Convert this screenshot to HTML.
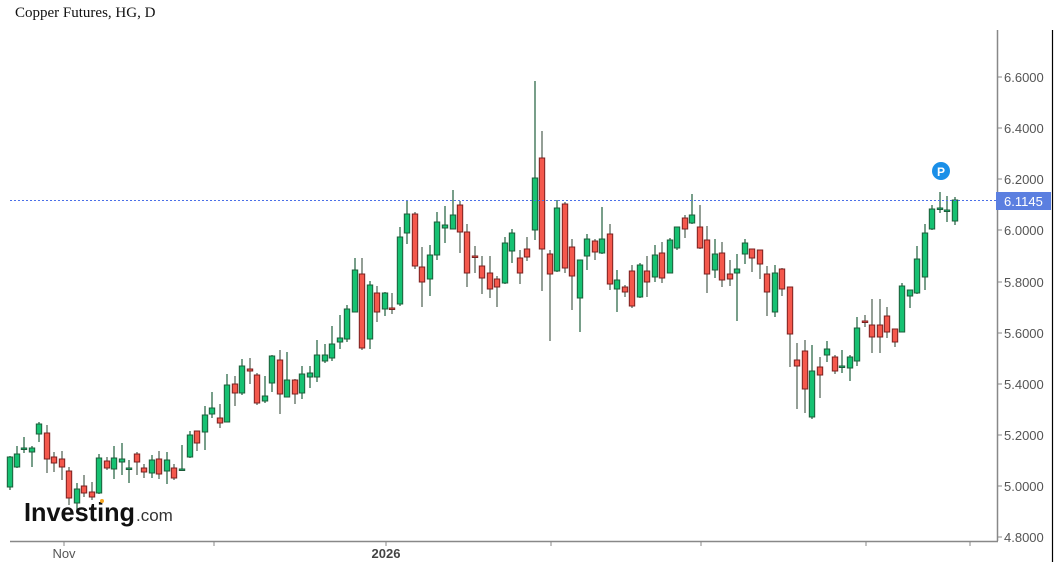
<!DOCTYPE html>
<html><head><meta charset="utf-8"><style>
html,body{margin:0;padding:0;background:#fff;width:1060px;height:569px;overflow:hidden}
svg{display:block;font-family:"Liberation Sans",Arial,sans-serif}
</style></head><body>
<svg id="c" width="1060" height="569" viewBox="0 0 1060 569" xmlns="http://www.w3.org/2000/svg">
<text x="15" y="17" font-family="Liberation Serif,serif" font-size="15" fill="#111">Copper Futures, HG, D</text>
<line x1="1052.5" y1="30" x2="1052.5" y2="562" stroke="#000" stroke-width="1.2"/>
<line x1="997.5" y1="30" x2="997.5" y2="541" stroke="#888" stroke-width="1.5"/>
<line x1="10" y1="541.5" x2="998" y2="541.5" stroke="#888" stroke-width="1.5"/>
<g fill="#555" font-size="13">
<text x="1004" y="82">6.6000</text><text x="1004" y="133">6.4000</text><text x="1004" y="184">6.2000</text>
<text x="1004" y="235">6.0000</text><text x="1004" y="287">5.8000</text><text x="1004" y="338">5.6000</text>
<text x="1004" y="389">5.4000</text><text x="1004" y="440">5.2000</text><text x="1004" y="491">5.0000</text>
<text x="1004" y="542">4.8000</text>
</g>
<g stroke="#888"><line x1="998" y1="77" x2="1002" y2="77"/><line x1="998" y1="128" x2="1002" y2="128"/><line x1="998" y1="179" x2="1002" y2="179"/><line x1="998" y1="230" x2="1002" y2="230"/><line x1="998" y1="282" x2="1002" y2="282"/><line x1="998" y1="333" x2="1002" y2="333"/><line x1="998" y1="384" x2="1002" y2="384"/><line x1="998" y1="435" x2="1002" y2="435"/><line x1="998" y1="486" x2="1002" y2="486"/><line x1="998" y1="537" x2="1002" y2="537"/>
<line x1="64" y1="542" x2="64" y2="546"/><line x1="214" y1="542" x2="214" y2="546"/><line x1="386" y1="542" x2="386" y2="546"/><line x1="551" y1="542" x2="551" y2="546"/><line x1="701" y1="542" x2="701" y2="546"/><line x1="866" y1="542" x2="866" y2="546"/><line x1="970" y1="542" x2="970" y2="546"/></g>
<text x="64" y="558" font-size="13" fill="#555" text-anchor="middle">Nov</text>
<text x="386" y="558" font-size="13" fill="#444" font-weight="bold" text-anchor="middle">2026</text>
<g id="k"></g>
<line x1="10" y1="200.5" x2="997" y2="200.5" stroke="#4a6fe8" stroke-width="1" stroke-dasharray="2,2"/>
<rect x="996" y="192" width="55" height="18" fill="#5b7fe0"/>
<text x="1004" y="206" font-size="13" fill="#fff">6.1145</text>
<circle cx="941" cy="171" r="9" fill="#1a8fe8"/>
<text x="941" y="176" font-size="12" font-weight="bold" fill="#fff" text-anchor="middle">P</text>
<text x="24" y="521" font-size="26" font-weight="bold" fill="#111" textLength="111" lengthAdjust="spacingAndGlyphs">Investing</text>
<text x="136" y="521" font-size="17" fill="#333">.com</text>
<circle cx="102" cy="501" r="2" fill="#f5a623"/>
</svg>
<script>
var d=[[10,487,457,456,490,'g'],[17,467,454,446,468,'g'],[24,448,448,437,453,'g'],[32,452,448,446,467,'g'],[39,434,424,422,442,'g'],[47,433,459,425,473,'r'],[54,457,463,452,472,'r'],[62,459,467,451,480,'r'],[69,471,498,467,505,'r'],[77,503,489,483,510,'g'],[84,486,493,475,497,'r'],[92,492,497,482,500,'r'],[99,493,458,454,494,'g'],[107,461,468,457,470,'r'],[114,469,458,446,479,'g'],[122,462,459,443,475,'g'],[129,468,468,460,483,'g'],[137,454,462,452,475,'r'],[144,468,472,464,478,'r'],[152,473,460,455,478,'g'],[159,459,474,451,479,'r'],[167,471,460,452,484,'g'],[174,468,478,464,480,'r'],[182,469,469,445,470,'g'],[190,457,435,431,458,'g'],[197,431,443,431,451,'r'],[205,432,415,406,450,'g'],[212,414,408,392,418,'g'],[220,418,423,404,428,'r'],[227,422,385,374,422,'g'],[235,384,393,376,406,'r'],[242,393,366,359,395,'g'],[250,369,371,358,384,'r'],[257,375,403,373,405,'r'],[265,401,396,376,403,'g'],[272,383,356,355,392,'g'],[280,360,394,350,414,'r'],[287,397,380,352,397,'g'],[295,380,394,379,404,'r'],[302,393,374,366,399,'g'],[310,377,373,366,388,'g'],[317,377,355,340,382,'g'],[325,361,355,344,363,'g'],[332,358,344,326,361,'g'],[340,342,338,315,349,'g'],[347,339,309,305,342,'g'],[355,312,270,258,312,'g'],[362,274,348,258,350,'r'],[370,339,285,281,349,'g'],[377,293,312,286,322,'r'],[385,309,293,292,316,'g'],[392,308,309,293,314,'r'],[400,304,237,227,306,'g'],[407,233,214,201,244,'g'],[415,214,266,212,269,'r'],[422,267,282,247,307,'r'],[430,279,255,245,296,'g'],[437,255,222,212,260,'g'],[445,228,225,206,243,'g'],[453,229,215,190,229,'g'],[460,205,232,201,253,'r'],[467,232,273,224,287,'r'],[475,256,257,246,273,'r'],[482,266,278,256,294,'r'],[490,273,289,256,298,'r'],[497,279,287,276,307,'r'],[505,283,243,237,284,'g'],[512,251,233,229,263,'g'],[520,258,273,250,284,'r'],[527,249,257,237,261,'r'],[535,230,178,81,240,'g'],[542,158,249,131,291,'r'],[550,254,274,250,341,'r'],[557,271,208,200,272,'g'],[565,204,268,202,273,'r'],[572,247,276,239,310,'r'],[580,298,260,260,332,'g'],[587,256,239,234,270,'g'],[595,241,252,239,260,'r'],[602,253,239,207,254,'g'],[610,234,284,224,290,'r'],[617,289,280,270,312,'g'],[625,287,292,285,297,'r'],[632,271,306,265,308,'r'],[640,297,265,263,298,'g'],[647,271,282,256,297,'r'],[655,277,255,245,282,'g'],[662,253,278,242,283,'r'],[670,273,240,238,273,'g'],[677,248,227,227,250,'g'],[685,218,229,215,238,'r'],[692,223,215,194,224,'g'],[700,227,248,205,249,'r'],[707,240,274,226,293,'r'],[715,270,254,239,278,'g'],[722,253,280,242,287,'r'],[730,274,279,260,286,'r'],[737,273,269,254,321,'g'],[745,254,243,239,264,'g'],[752,249,258,249,272,'r'],[760,250,264,250,279,'r'],[767,274,292,266,316,'r'],[775,312,273,265,317,'g'],[782,269,289,268,296,'r'],[790,287,334,287,367,'r'],[797,360,366,343,409,'r'],[805,351,389,340,413,'r'],[812,417,371,345,419,'g'],[820,367,375,357,398,'r'],[827,355,349,341,362,'g'],[835,357,371,355,374,'r'],[842,367,366,350,373,'g'],[850,368,357,355,381,'g'],[857,361,328,317,366,'g'],[865,321,322,315,327,'r'],[872,325,337,299,353,'r'],[880,325,337,299,353,'r'],[887,316,332,307,338,'r'],[895,329,342,329,347,'r'],[902,332,286,283,332,'g'],[910,296,290,290,308,'g'],[917,293,259,246,294,'g'],[925,277,233,224,290,'g'],[932,229,209,205,230,'g'],[940,209,208,192,213,'g'],[947,210,210,196,222,'g'],[955,221,200,197,225,'g']];
var s='';d.forEach(function(c){var x=c[0],t=Math.min(c[1],c[2]),b=Math.max(c[1],c[2]);var h=Math.max(b-t,1.5);
var g=c[5]=='g';var f=g?'#16c172':'#f4584c',st=g?'#1d5c3a':'#7a2020';
s+='<line x1="'+x+'" y1="'+c[3]+'" x2="'+x+'" y2="'+c[4]+'" stroke="'+(g?'#2f6b4a':'#5a6b5e')+'" stroke-width="1.3"/>';
s+='<rect x="'+(x-2.7)+'" y="'+t+'" width="5.4" height="'+h+'" fill="'+f+'" stroke="'+st+'" stroke-width="1"/>';});
document.getElementById('k').innerHTML=s;
</script>
</body></html>
